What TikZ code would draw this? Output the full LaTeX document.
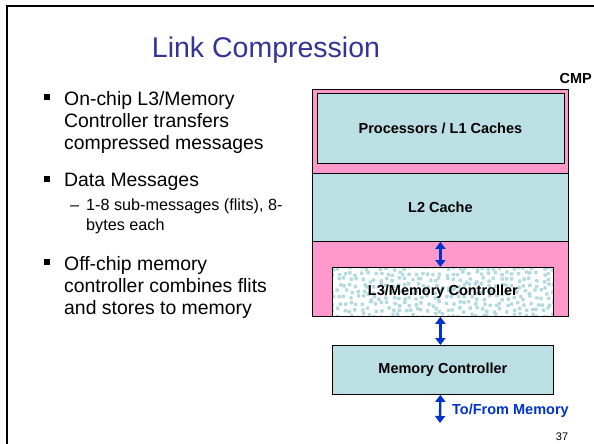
\documentclass[tikz,border=0pt]{standalone}
\usepackage{fontspec}
\setmainfont{Liberation Sans}
\usetikzlibrary{arrows.meta}
\definecolor{pinkfill}{RGB}{255,153,204}
\definecolor{tealfill}{RGB}{187,223,226}
\definecolor{dotteal}{RGB}{178,218,224}
\definecolor{titleblue}{RGB}{51,51,153}
\definecolor{arrowblue}{RGB}{0,51,204}
\begin{document}
\begin{tikzpicture}[x=1pt,y=-1pt,
  bodytext/.style={anchor=base west, inner sep=0pt, font=\fontsize{19.4}{22}\selectfont},
  subtext/.style={anchor=base west, inner sep=0pt, font=\fontsize{16.2}{20}\selectfont},
  bulletsq/.style={fill=black, minimum size=5.5pt, inner sep=0pt},
  blockbox/.style={draw=black, line width=0.8pt, anchor=north west, inner sep=0pt, font=\fontsize{14.5}{16}\selectfont\bfseries},
  linkarrow/.style={draw=arrowblue, line width=2.4pt, {Triangle[width=10pt,length=7pt]}-{Triangle[width=10pt,length=7pt]}},
]
\useasboundingbox (0,0) rectangle (594,444);
\draw[line width=2pt] (7,444) -- (7,6) -- (594,6);

\node[anchor=base, inner sep=0pt, font=\fontsize{28.5}{30}\selectfont, text=titleblue] (title) at (266,58) {Link Compression};

% left bullets
\node[bulletsq] (sq1) at (47,97) {};
\node[bodytext] (b1a) at (64,105) {On-chip L3/Memory};
\node[bodytext] (b1b) at (64,127) {Controller transfers};
\node[bodytext] (b1c) at (64,149) {compressed messages};
\node[bulletsq] (sq2) at (47,179) {};
\node[bodytext] (b2a) at (64,186) {Data Messages};
\node[subtext] (dash) at (70,210) {–};
\node[subtext] (s1a) at (86,210) {1-8 sub-messages (flits), 8-};
\node[subtext] (s1b) at (86,230) {bytes each};
\node[bulletsq] (sq3) at (47,262) {};
\node[bodytext] (b3a) at (64,270) {Off-chip memory};
\node[bodytext] (b3b) at (64,292) {controller combines flits};
\node[bodytext] (b3c) at (64,314) {and stores to memory};

% CMP block
\node[blockbox, fill=pinkfill, minimum width=256pt, minimum height=227pt] (cmp) at (312,89) {};
\node[anchor=base east, inner sep=0pt, font=\fontsize{14.5}{16}\selectfont\bfseries] (cmplabel) at (592,84) {CMP};
\node[blockbox, fill=tealfill, minimum width=247pt, minimum height=70pt] (proc) at (316.5,93) {Processors / L1 Caches};
\node[blockbox, fill=tealfill, minimum width=256pt, minimum height=68pt] (l2) at (312,173) {L2 Cache};
\node[blockbox, fill=white, minimum width=221pt, minimum height=49pt] (l3bg) at (332,267) {};
\begin{scope}
  \clip (l3bg.north west) rectangle (l3bg.south east);
  \pgfmathsetseed{11}
  \foreach \i in {0,...,38}{
    \foreach \j in {0,...,9}{
      \pgfmathsetmacro{\dx}{rnd*4.5}
      \pgfmathsetmacro{\dy}{rnd*4.5}
      \fill[dotteal, rounded corners=0.6pt] (329+\i*6+\dx,264+\j*6+\dy) rectangle ++(3.4,3.4);
    }
  }
\end{scope}
\node[blockbox, minimum width=221pt, minimum height=49pt] (l3) at (332,267) {L3/Memory Controller};

\node[blockbox, fill=tealfill, minimum width=221pt, minimum height=49pt] (mc) at (332,345) {Memory Controller};
\coordinate (mem) at (440,423);

\draw[linkarrow] (l2.south) -- (l2.south |- l3.north);
\draw[linkarrow] (cmp.south) -- (cmp.south |- mc.north);
\draw[linkarrow] (mc.south -| cmp.south) -- (mem);
\node[anchor=west, inner sep=0pt, text=arrowblue, font=\fontsize{14.5}{16}\selectfont\bfseries] (memlabel) at (452,411) {To/From Memory};
\node[anchor=base, inner sep=0pt, font=\fontsize{11}{12}\selectfont] (pagenum) at (562,440) {37};
\end{tikzpicture}
\end{document}
